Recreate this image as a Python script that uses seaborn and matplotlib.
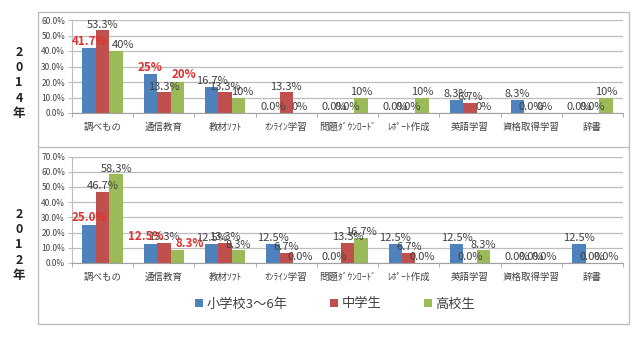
import matplotlib
matplotlib.use("Agg")
import matplotlib.pyplot as plt
from matplotlib.lines import Line2D
from matplotlib.patches import Rectangle, Patch
from matplotlib.ticker import FuncFormatter, FixedLocator
import seaborn as sns
import pandas as pd

sns.set_style("white")
plt.rcParams["font.family"] = ["Noto Sans CJK JP", "DejaVu Sans"]

# Usage categories (half-width katakana as in the source survey sheet)
categories = ["調べもの", "通信教育", "教材ｿﾌﾄ", "ｵﾝﾗｲﾝ学習", "問題ﾀﾞｳﾝﾛｰﾄﾞ",
              "ﾚﾎﾟｰﾄ作成", "英語学習", "資格取得学習", "辞書"]
groups = ["小学校3～6年", "中学生", "高校生"]

# 2014 survey, percent
y2014_elem = [41.7, 25.0, 16.7, 0.0, 0.0, 0.0, 8.3, 8.3, 0.0]
y2014_jhs = [53.3, 13.3, 13.3, 13.3, 0.0, 0.0, 6.7, 0.0, 0.0]
y2014_hs = [40.0, 20.0, 10.0, 0.0, 10.0, 10.0, 0.0, 0.0, 10.0]
# decimals shown on each 2014 data label
dec2014_elem = [1, 0, 1, 1, 1, 1, 1, 1, 1]
dec2014_jhs = [1, 1, 1, 1, 1, 1, 1, 1, 1]
dec2014_hs = [0, 0, 0, 0, 0, 0, 0, 0, 0]

# 2012 survey, percent
y2012_elem = [25.0, 12.5, 12.5, 12.5, 0.0, 12.5, 12.5, 0.0, 12.5]
y2012_jhs = [46.7, 13.3, 13.3, 6.7, 13.3, 6.7, 0.0, 0.0, 0.0]
y2012_hs = [58.3, 8.3, 8.3, 0.0, 16.7, 0.0, 8.3, 0.0, 0.0]
dec2012 = [1] * 9

# labels emphasised in red: (group index, category index)
hl2014 = {(0, 0), (0, 1), (2, 1)}
hl2012 = {(0, 0), (0, 1), (2, 1)}

# hand-nudged label positions (points): (group, category) -> dx
nudge2014 = {(2, 0): 5, (2, 1): 5, (2, 2): 3}
nudge2012 = {(0, 1): -3, (2, 1): 9}

colors = ["#4F81BD", "#C0504D", "#9BBB59"]
text_gray = "#404040"
grid_gray = "#BDBDBD"


def long_frame(series):
    rows = []
    for g, vals in zip(groups, series):
        for c, v in zip(categories, vals):
            rows.append({"cat": c, "grp": g, "val": v})
    return pd.DataFrame(rows)


fig = plt.figure(figsize=(6.4, 3.38), dpi=100)
fig.patch.set_facecolor("white")

ax_top = fig.add_axes([0.1125, 1 - 113 / 338, 0.861, 93 / 338])
ax_bot = fig.add_axes([0.1125, 1 - 263 / 338, 0.861, 106.5 / 338])

panels = [
    (ax_top, [y2014_elem, y2014_jhs, y2014_hs],
     [dec2014_elem, dec2014_jhs, dec2014_hs], hl2014, nudge2014, 60),
    (ax_bot, [y2012_elem, y2012_jhs, y2012_hs],
     [dec2012, dec2012, dec2012], hl2012, nudge2012, 70),
]

for ax, series, decs, hl, nudge, ymax in panels:
    df = long_frame(series)
    sns.barplot(data=df, x="cat", y="val", hue="grp", order=categories,
                hue_order=groups, palette=colors, width=0.66, gap=0,
                saturation=1, errorbar=None, legend=False, ax=ax,
                linewidth=0)
    ax.set_xlim(-0.5, len(categories) - 0.5)
    ax.set_ylim(0, ymax)
    ax.set_yticks(range(0, ymax + 1, 10))
    ax.yaxis.set_major_formatter(FuncFormatter(lambda v, p: f"{v:.1f}%"))
    ax.grid(axis="y", color=grid_gray, linewidth=0.9)
    ax.set_axisbelow(True)
    ax.set_xlabel("")
    ax.set_ylabel("")
    for s in ["top", "right"]:
        ax.spines[s].set_visible(False)
    ax.spines["left"].set_color(grid_gray)
    ax.spines["bottom"].set_color("#A0A0A0")
    ax.tick_params(axis="y", labelsize=6, colors=text_gray, length=3,
                   color=grid_gray, pad=2, left=True)
    ax.tick_params(axis="x", labelsize=6.8, colors=text_gray, length=0,
                   pad=7)
    ax.xaxis.set_minor_locator(FixedLocator(
        [i + 0.5 for i in range(-1, len(categories))]))
    ax.tick_params(axis="x", which="minor", length=3, color="#A0A0A0",
                   bottom=True)

    for gi, cont in enumerate(ax.containers):
        for ci, bar in enumerate(cont):
            v = series[gi][ci]
            d = decs[gi][ci]
            txt = f"{v:.{d}f}%"
            x = bar.get_x() + bar.get_width() / 2
            dx = nudge.get((gi, ci), 0)
            if (gi, ci) in hl:
                ax.annotate(txt, (x, v), xytext=(dx, 0.5),
                            textcoords="offset points", ha="center",
                            va="bottom", fontsize=8.3, fontweight="bold",
                            color="#E0302F", clip_on=False, zorder=5)
            else:
                ax.annotate(txt, (x, v), xytext=(dx, 0.5),
                            textcoords="offset points", ha="center",
                            va="bottom", fontsize=8, color=text_gray,
                            clip_on=False)

# Year captions on the left
fig.text(19 / 640, 1 - 83 / 338, "2\n0\n1\n4\n年", ha="center", va="center",
         fontsize=9, fontweight="bold", color="#222222", linespacing=1.25)
fig.text(19 / 640, 1 - 245 / 338, "2\n0\n1\n2\n年", ha="center", va="center",
         fontsize=9, fontweight="bold", color="#222222", linespacing=1.25)

# Outer frame and divider between the two years
frame_col = "#BFBFBF"
fig.add_artist(Rectangle((38 / 640, 1 - 324 / 338), (629 - 38) / 640,
                         (324 - 12) / 338, transform=fig.transFigure,
                         fill=False, edgecolor=frame_col, linewidth=1))
fig.add_artist(Line2D([38 / 640, 629 / 640], [1 - 147 / 338, 1 - 147 / 338],
                      transform=fig.transFigure, color=frame_col,
                      linewidth=1))

handles = [Patch(facecolor=c, edgecolor="none") for c in colors]
fig.legend(handles, groups, loc="center", bbox_to_anchor=(335 / 640, 1 - 304 / 338),
           ncol=3, frameon=False, fontsize=9.5, handlelength=0.6,
           handleheight=0.6, handletextpad=0.3, columnspacing=3.2,
           labelcolor=text_gray)

fig.savefig("out.png", dpi=100, facecolor="white")
